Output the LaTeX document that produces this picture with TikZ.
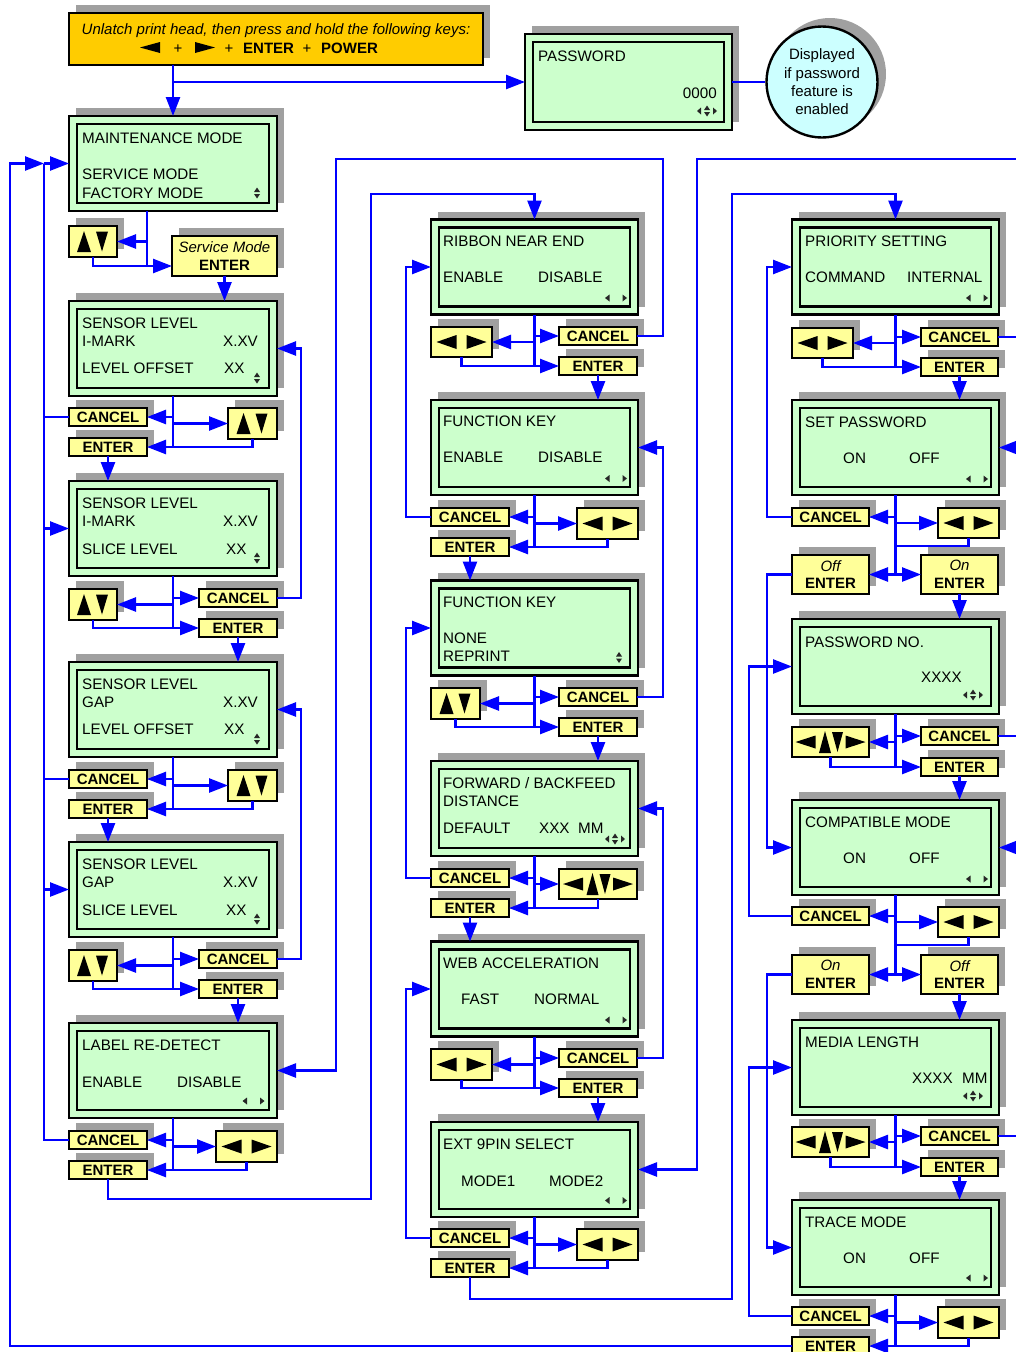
\documentclass[tikz,border=0pt]{standalone}
\usepackage{fontspec}
\setmainfont{Liberation Sans}
\usetikzlibrary{arrows.meta}
\definecolor{lcdg}{HTML}{CCFFCC}
\definecolor{yel}{HTML}{FFFF99}
\definecolor{orng}{HTML}{FFCC00}
\definecolor{cyn}{HTML}{CCFFFF}
\definecolor{shc}{HTML}{A0A0A0}
\definecolor{blu}{HTML}{0000FF}
\tikzset{
 ar/.style={draw=blu, line width=2.5pt, -{Triangle[length=19pt,width=14pt]}},
 ln/.style={draw=blu, line width=2.5pt},
 lcdst/.style={draw, line width=2.6pt, fill=lcdg, anchor=north west, inner sep=0pt, outer sep=0pt},
 btnst/.style={draw, line width=2.4pt, fill=yel, anchor=north west, inner sep=0pt, outer sep=0pt, align=center, font=\bfseries\fontsize{15}{17.5}\selectfont},
 lt/.style={anchor=base west, inner sep=0pt, font=\fontsize{15.2}{18}\selectfont},
 rt/.style={anchor=base east, inner sep=0pt, font=\fontsize{15.2}{18}\selectfont},
 ic/.style={fill=black!85},
}
\newcommand{\lcd}[5]{%
 \fill[shc] (#2+7,#3-8) rectangle (#2+7+#4,#3-8+#5);
 \node[lcdst, minimum width=#4pt, minimum height=#5pt] (#1) at (#2,#3) {};
 \draw[line width=2.2pt] ([xshift=8pt,yshift=-8pt]#1.north west) rectangle ([xshift=-8pt,yshift=8pt]#1.south east);
}
\newcommand{\btn}[6]{%
 \fill[shc] (#2+7,#3-8) rectangle (#2+7+#4,#3-8+#5);
 \node[btnst, minimum width=#4pt, minimum height=#5pt] (#1) at (#2,#3) {#6};
}
\newcommand{\gud}[1]{%
 \fill ([shift={(-9,-10.5)}]#1.center) -- ([shift={(-2,10.5)}]#1.center) -- ([shift={(-16,10.5)}]#1.center) -- cycle;
 \fill ([shift={(9,10)}]#1.center) -- ([shift={(15,-10)}]#1.center) -- ([shift={(3,-10)}]#1.center) -- cycle;
}
\newcommand{\glr}[1]{%
 \fill ([shift={(-25,0)}]#1.center) -- ([shift={(-5,-7)}]#1.center) -- ([shift={(-5,7)}]#1.center) -- cycle;
 \fill ([shift={(25,0)}]#1.center) -- ([shift={(5,-7)}]#1.center) -- ([shift={(5,7)}]#1.center) -- cycle;
}
\newcommand{\gall}[1]{%
 \fill ([shift={(-35,0)}]#1.center) -- ([shift={(-15,-6.5)}]#1.center) -- ([shift={(-15,6.5)}]#1.center) -- cycle;
 \fill ([shift={(-5.5,-11)}]#1.center) -- ([shift={(0.5,11)}]#1.center) -- ([shift={(-11.5,11)}]#1.center) -- cycle;
 \fill ([shift={(7,10)}]#1.center) -- ([shift={(12.5,-10)}]#1.center) -- ([shift={(1.5,-10)}]#1.center) -- cycle;
 \fill ([shift={(35,0)}]#1.center) -- ([shift={(15,-6.5)}]#1.center) -- ([shift={(15,6.5)}]#1.center) -- cycle;
}
\newcommand{\ilr}[2]{%
 \fill[ic] (#1,#2) -- (#1+4.5,#2-3.5) -- (#1+4.5,#2+3.5) -- cycle;
 \fill[ic] (#1+22,#2) -- (#1+17.5,#2-3.5) -- (#1+17.5,#2+3.5) -- cycle;}
\newcommand{\iud}[2]{%
 \fill[ic] (#1,#2-5.5) -- (#1+3,#2-1) -- (#1-3,#2-1) -- cycle;
 \fill[ic] (#1,#2+5.5) -- (#1+3,#2+1) -- (#1-3,#2+1) -- cycle;}
\newcommand{\iall}[2]{%
 \fill[ic] (#1,#2) -- (#1+4,#2-3.5) -- (#1+4,#2+3.5) -- cycle;
 \fill[ic] (#1+10,#2-5.5) -- (#1+13,#2-1) -- (#1+7,#2-1) -- cycle;
 \fill[ic] (#1+10,#2+5.5) -- (#1+13,#2+1) -- (#1+7,#2+1) -- cycle;
 \fill[ic] (#1+20,#2) -- (#1+16,#2-3.5) -- (#1+16,#2+3.5) -- cycle;}
\begin{document}
\begin{tikzpicture}[x=1pt,y=-1pt]
\useasboundingbox (0,0) rectangle (1015,1352);
% ---------- top
\fill[shc] (76,5) rectangle (490,58);
\node[draw, line width=2.6pt, fill=orng, minimum width=414pt, minimum height=52pt, anchor=north west, inner sep=0pt, outer sep=0pt] (top) at (69,13) {};
\node[anchor=base, inner sep=0pt, font=\itshape\fontsize{15}{18}\selectfont] (topa) at (276,34) {Unlatch print head, then press and hold the following keys:};
\fill (140,47.5) -- (160,42) -- (160,53) -- cycle;
\fill (215,47.5) -- (195,42) -- (195,53) -- cycle;
\node[anchor=base, inner sep=0pt, font=\fontsize{15}{18}\selectfont] (topp1) at (178,53) {+};
\node[anchor=base, inner sep=0pt, font=\fontsize{15}{18}\selectfont] (topp2) at (229,53) {+};
\node[anchor=base, inner sep=0pt, font=\fontsize{15}{18}\selectfont] (topp3) at (307,53) {+};
\node[anchor=base west, inner sep=0pt, font=\bfseries\fontsize{15}{18}\selectfont] (tope) at (243,53) {ENTER};
\node[anchor=base west, inner sep=0pt, font=\bfseries\fontsize{15}{18}\selectfont] (topw) at (321,53) {POWER};
% password
\lcd{pw}{525}{34}{207}{96}
\node[lt] (pwa) at (538,61) {PASSWORD};
\node[rt] (pwb) at (717,98) {0000};
\iall{697}{111}
\fill[shc] (830,74) circle[radius=56pt];
\node[circle, draw, line width=2.4pt, fill=cyn, minimum size=111pt, inner sep=0pt, align=center, font=\fontsize{15}{18.3}\selectfont] (circ) at (822,82) {Displayed\\if password\\feature is\\enabled};
% ---------- left column
\lcd{b1}{69}{116}{208}{95}
\node[lt] (b1a) at (82,143) {MAINTENANCE MODE};
\node[lt] (b1b) at (82,179) {SERVICE MODE};
\node[lt] (b1c) at (82,198) {FACTORY MODE};
\iud{257}{193}
\btn{ud1}{69}{226}{48}{31}{} \gud{ud1}
\btn{sme}{172}{236}{105}{40}{{\mdseries\itshape Service Mode}\\ENTER}

\lcd{b2}{69}{301}{208}{95}
\node[lt] (b2a) at (82,328) {SENSOR LEVEL};
\node[lt] (b2b) at (82,346.5) {I-MARK};
\node[rt] (b2c) at (258,346.5) {X.XV};
\node[lt] (b2d) at (82,373) {LEVEL OFFSET};
\node[lt] (b2e) at (224,373) {XX};
\iud{257}{378}
\btn{c2}{69}{408}{78}{18}{CANCEL}
\btn{e2}{69}{438}{78}{18}{ENTER}
\btn{ud2}{228}{408}{49}{31}{} \gud{ud2}

\lcd{b3}{69}{481}{208}{95}
\node[lt] (b3a) at (82,508) {SENSOR LEVEL};
\node[lt] (b3b) at (82,526.5) {I-MARK};
\node[rt] (b3c) at (258,526.5) {X.XV};
\node[lt] (b3d) at (82,554) {SLICE LEVEL};
\node[lt] (b3e) at (226,554) {XX};
\iud{257}{558}
\btn{ud3}{69}{589}{48}{31}{} \gud{ud3}
\btn{c3}{199}{589}{78}{18}{CANCEL}
\btn{e3}{199}{619}{78}{18}{ENTER}

\lcd{b4}{69}{662}{208}{95}
\node[lt] (b4a) at (82,689) {SENSOR LEVEL};
\node[lt] (b4b) at (82,707.5) {GAP};
\node[rt] (b4c) at (258,707.5) {X.XV};
\node[lt] (b4d) at (82,734) {LEVEL OFFSET};
\node[lt] (b4e) at (224,734) {XX};
\iud{257}{739}
\btn{c4}{69}{770}{78}{18}{CANCEL}
\btn{e4}{69}{800}{78}{18}{ENTER}
\btn{ud4}{228}{770}{49}{31}{} \gud{ud4}

\lcd{b5}{69}{842}{208}{95}
\node[lt] (b5a) at (82,869) {SENSOR LEVEL};
\node[lt] (b5b) at (82,887.5) {GAP};
\node[rt] (b5c) at (258,887.5) {X.XV};
\node[lt] (b5d) at (82,915) {SLICE LEVEL};
\node[lt] (b5e) at (226,915) {XX};
\iud{257}{919}
\btn{ud5}{69}{950}{48}{31}{} \gud{ud5}
\btn{c5}{199}{950}{78}{18}{CANCEL}
\btn{e5}{199}{980}{78}{18}{ENTER}

\lcd{b6}{69}{1023}{208}{95}
\node[lt] (b6a) at (82,1050) {LABEL RE-DETECT};
\node[lt] (b6b) at (82,1087) {ENABLE};
\node[lt] (b6c) at (177,1087) {DISABLE};
\ilr{242.5}{1101}
\btn{c6}{69}{1131}{78}{18}{CANCEL}
\btn{e6}{69}{1161}{78}{18}{ENTER}
\btn{lr6}{216}{1131}{61}{31}{} \glr{lr6}
% ---------- middle column
\lcd{M1}{431}{219.5}{207}{95}
\node[lt] (m1a) at (443,246.5) {RIBBON NEAR END};
\node[lt] (m1b) at (443,282.5) {ENABLE};
\node[lt] (m1c) at (538,282.5) {DISABLE};
\ilr{605}{298}
\btn{mlr1}{431}{327}{61}{30}{} \glr{mlr1}
\btn{mc1}{559}{327}{78}{18}{CANCEL}
\btn{me1}{559}{357}{78}{18}{ENTER}

\lcd{M2}{431}{400}{207}{95}
\node[lt] (m2a) at (443,426.5) {FUNCTION KEY};
\node[lt] (m2b) at (443,462.5) {ENABLE};
\node[lt] (m2c) at (538,462.5) {DISABLE};
\ilr{605}{478.5}
\btn{mc2}{431}{508}{78}{18}{CANCEL}
\btn{me2}{431}{538}{78}{18}{ENTER}
\btn{mlr2}{577}{508}{61}{31}{} \glr{mlr2}

\lcd{M3}{431}{580.5}{207}{95}
\node[lt] (m3a) at (443,607) {FUNCTION KEY};
\node[lt] (m3b) at (443,643.5) {NONE};
\node[lt] (m3c) at (443,661.5) {REPRINT};
\iud{619}{657.5}
\btn{mud3}{431}{688}{49}{31}{} \gud{mud3}
\btn{mc3}{559}{688}{78}{18}{CANCEL}
\btn{me3}{559}{718}{78}{18}{ENTER}

\lcd{M4}{431}{761}{207}{95}
\node[lt] (m4a) at (443,788) {FORWARD / BACKFEED};
\node[lt] (m4b) at (443,806.5) {DISTANCE};
\node[lt] (m4c) at (443,833) {DEFAULT};
\node[lt] (m4d) at (539,833) {XXX};
\node[lt] (m4e) at (578,833) {MM};
\iall{605}{839}
\btn{mc4}{431}{869}{78}{18}{CANCEL}
\btn{me4}{431}{899}{78}{18}{ENTER}
\btn{mall4}{559}{869}{78}{30}{} \gall{mall4}

\lcd{M5}{431}{941.5}{207}{95}
\node[lt] (m5a) at (443,968.5) {WEB ACCELERATION};
\node[lt] (m5b) at (461,1004.5) {FAST};
\node[lt] (m5c) at (534,1004.5) {NORMAL};
\ilr{605}{1020}
\btn{mlr5}{431}{1049}{61}{31}{} \glr{mlr5}
\btn{mc5}{559}{1049}{78}{18}{CANCEL}
\btn{me5}{559}{1079}{78}{18}{ENTER}

\lcd{M6}{431}{1122}{207}{95}
\node[lt] (m6a) at (443,1149) {EXT 9PIN SELECT};
\node[lt] (m6b) at (461,1186) {MODE1};
\node[lt] (m6c) at (549,1186) {MODE2};
\ilr{605}{1200.5}
\btn{mc6}{431}{1229}{78}{18}{CANCEL}
\btn{me6}{431}{1259}{78}{18}{ENTER}
\btn{mlr6}{577}{1229}{61}{31}{} \glr{mlr6}
% ---------- right column
\lcd{R1}{792}{219.5}{207}{95}
\node[lt] (r1a) at (805,246.5) {PRIORITY SETTING};
\node[lt] (r1b) at (805,282.5) {COMMAND};
\node[lt] (r1c) at (907,282.5) {INTERNAL};
\ilr{966}{298}
\btn{rlr1}{792}{328}{61}{30}{} \glr{rlr1}
\btn{rc1}{921}{328}{77}{18}{CANCEL}
\btn{re1}{921}{358}{77}{18}{ENTER}

\lcd{R2}{792}{400}{207}{95}
\node[lt] (r2a) at (805,427) {SET PASSWORD};
\node[lt] (r2b) at (843,463) {ON};
\node[lt] (r2c) at (909,463) {OFF};
\ilr{966}{479}
\btn{rc2}{792}{508}{77}{18}{CANCEL}
\btn{rlr2}{938}{508}{61}{30}{} \glr{rlr2}
\btn{roff2}{792}{555}{77}{39}{{\mdseries\itshape Off}\\ENTER}
\btn{ron2}{921}{555}{77}{39}{{\mdseries\itshape On}\\ENTER}

\lcd{R3}{792}{619}{207}{95}
\node[lt] (r3a) at (805,647) {PASSWORD NO.};
\node[lt] (r3b) at (921,682) {XXXX};
\iall{963}{695}
\btn{rall3}{792}{727}{77}{30}{} \gall{rall3}
\btn{rc3}{921}{727}{77}{18}{CANCEL}
\btn{re3}{921}{758}{77}{18}{ENTER}

\lcd{R4}{792}{800}{207}{95}
\node[lt] (r4a) at (805,827) {COMPATIBLE MODE};
\node[lt] (r4b) at (843,863) {ON};
\node[lt] (r4c) at (909,863) {OFF};
\ilr{966}{879}
\btn{rc4}{792}{907}{77}{18}{CANCEL}
\btn{rlr4}{938}{907}{61}{30}{} \glr{rlr4}
\btn{ron4}{792}{955}{77}{39}{{\mdseries\itshape On}\\ENTER}
\btn{roff4}{921}{955}{77}{39}{{\mdseries\itshape Off}\\ENTER}

\lcd{R5}{792}{1020}{207}{95}
\node[lt] (r5a) at (805,1047) {MEDIA LENGTH};
\node[lt] (r5b) at (912,1083) {XXXX};
\node[lt] (r5c) at (962,1083) {MM};
\iall{963}{1096}
\btn{rall5}{792}{1127}{77}{30}{} \gall{rall5}
\btn{rc5}{921}{1127}{77}{18}{CANCEL}
\btn{re5}{921}{1158}{77}{18}{ENTER}

\lcd{R6}{792}{1200}{207}{95}
\node[lt] (r6a) at (805,1227) {TRACE MODE};
\node[lt] (r6b) at (843,1263) {ON};
\node[lt] (r6c) at (909,1263) {OFF};
\ilr{966}{1278}
\btn{rc6}{792}{1307}{77}{18}{CANCEL}
\btn{rlr6}{938}{1307}{61}{31}{} \glr{rlr6}
\btn{re6}{792}{1337}{77}{18}{ENTER}

% ================= connectors
\draw[ar] (b1.north |- top.south) -- (b1.north);
\draw[ar] (b1.north |- pw.west) -- (pw.west);
\draw[ln] (pw.east) -- (circ.west);
% b1
\coordinate (j1) at ([xshift=-26pt]b1.south);
\coordinate (j2) at ([yshift=-10pt]sme.west);
\draw[ln] (j1) -- (j1 |- j2);
\draw[ar] (j1 |- ud1.east) -- (ud1.east);
\draw[ar] (ud1.south) |- (j2);
\draw[ar] (sme.south) -- (sme.south |- b2.north);
% b2
\draw[ln] (b2.south) -- (b2.south |- e2.east);
\draw[ar] (b2.south |- c2.east) -- (c2.east);
\draw[ar] (b2.south |- ud2.west) -- (ud2.west);
\draw[ar] (ud2.south) |- (e2.east);
\draw[ar] (e2.south) -- (e2.south |- b3.north);
% b3
\draw[ln] (b3.south) -- (b3.south |- e3.west);
\draw[ar] (b3.south |- c3.west) -- (c3.west);
\draw[ar] (b3.south |- ud3.east) -- (ud3.east);
\draw[ar] (ud3.south) |- (e3.west);
\draw[ar] (e3.south) -- (e3.south |- b4.north);
\draw[ar] (c3.east) -| ([xshift=24pt]b2.east) -- (b2.east);
% b4
\draw[ln] (b4.south) -- (b4.south |- e4.east);
\draw[ar] (b4.south |- c4.east) -- (c4.east);
\draw[ar] (b4.south |- ud4.west) -- (ud4.west);
\draw[ar] (ud4.south) |- (e4.east);
\draw[ar] (e4.south) -- (e4.south |- b5.north);
% b5
\draw[ln] (b5.south) -- (b5.south |- e5.west);
\draw[ar] (b5.south |- c5.west) -- (c5.west);
\draw[ar] (b5.south |- ud5.east) -- (ud5.east);
\draw[ar] (ud5.south) |- (e5.west);
\draw[ar] (e5.south) -- (e5.south |- b6.north);
\draw[ar] (c5.east) -| ([xshift=24pt]b4.east) -- (b4.east);
% b6
\draw[ln] (b6.south) -- (b6.south |- e6.east);
\draw[ar] (b6.south |- c6.east) -- (c6.east);
\draw[ar] (b6.south |- lr6.west) -- (lr6.west);
\draw[ar] (lr6.south) |- (e6.east);
% left long lines
\coordinate (L0) at (10,163.5);
\coordinate (L1) at (44,163.5);
\draw[ar] (re6.west) -| (L0) -- (L1);
\draw[ln] (c6.west) -| (L1);
\draw[ln] (c4.west) -- (c4.west -| L1);
\draw[ln] (c2.west) -- (c2.west -| L1);
\draw[ar] (L1) -- (b1.west);
\draw[ar] (b3.west -| L1) -- (b3.west);
\draw[ar] (b5.west -| L1) -- (b5.west);
% links left <-> middle
\coordinate (p1) at (663,159);
\coordinate (p2) at (336,159);
\draw[ar] (mc1.east) -| (p1) -- (p2) |- (b6.east);
\coordinate (p4) at (371,1199);
\coordinate (p5) at (371,194);
\draw[ar] (e6.south) |- (p4) -- (p5) -| (M1.north);
% M1
\draw[ln] (M1.south) -- (M1.south |- me1.west);
\draw[ar] (M1.south |- mc1.west) -- (mc1.west);
\draw[ar] (M1.south |- mlr1.east) -- (mlr1.east);
\draw[ar] (mlr1.south) |- (me1.west);
\draw[ar] (me1.south) -- (me1.south |- M2.north);
% M2
\draw[ln] (M2.south) -- (M2.south |- me2.east);
\draw[ar] (M2.south |- mc2.east) -- (mc2.east);
\draw[ar] (M2.south |- mlr2.west) -- (mlr2.west);
\draw[ar] (mlr2.south) |- (me2.east);
\draw[ar] (me2.south) -- (me2.south |- M3.north);
\draw[ar] (mc2.west) -| ([xshift=-25pt]M1.west) -- (M1.west);
% M3
\draw[ln] (M3.south) -- (M3.south |- me3.west);
\draw[ar] (M3.south |- mc3.west) -- (mc3.west);
\draw[ar] (M3.south |- mud3.east) -- (mud3.east);
\draw[ar] (mud3.south) |- (me3.west);
\draw[ar] (me3.south) -- (me3.south |- M4.north);
\draw[ar] (mc3.east) -| ([xshift=25pt]M2.east) -- (M2.east);
% M4
\draw[ln] (M4.south) -- (M4.south |- me4.east);
\draw[ar] (M4.south |- mc4.east) -- (mc4.east);
\draw[ar] (M4.south |- mall4.west) -- (mall4.west);
\draw[ar] (mall4.south) |- (me4.east);
\draw[ar] (me4.south) -- (me4.south |- M5.north);
\draw[ar] (mc4.west) -| ([xshift=-25pt]M3.west) -- (M3.west);
% M5
\draw[ln] (M5.south) -- (M5.south |- me5.west);
\draw[ar] (M5.south |- mc5.west) -- (mc5.west);
\draw[ar] (M5.south |- mlr5.east) -- (mlr5.east);
\draw[ar] (mlr5.south) |- (me5.west);
\draw[ar] (me5.south) -- (me5.south |- M6.north);
\draw[ar] (mc5.east) -| ([xshift=25pt]M4.east) -- (M4.east);
% M6
\draw[ln] (M6.south) -- (M6.south |- me6.east);
\draw[ar] (M6.south |- mc6.east) -- (mc6.east);
\draw[ar] (M6.south |- mlr6.west) -- (mlr6.west);
\draw[ar] (mlr6.south) |- (me6.east);
\draw[ar] (mc6.west) -| ([xshift=-25pt]M5.west) -- (M5.west);
\coordinate (q1) at (1025,159);
\coordinate (q2) at (697,159);
\draw[ar] (q1) -- (q2) |- (M6.east);
\coordinate (q3) at (732,1299);
\coordinate (q4) at (732,194);
\draw[ar] (me6.south) |- (q3) -- (q4) -| (R1.north);
% right
\coordinate (E) at (1025,0);
% R1
\draw[ln] (R1.south) -- (R1.south |- re1.west);
\draw[ar] (R1.south |- rc1.west) -- (rc1.west);
\draw[ar] (R1.south |- rlr1.east) -- (rlr1.east);
\draw[ar] (rlr1.south) |- (re1.west);
\draw[ar] (re1.south) -- (re1.south |- R2.north);
\draw[ln] (rc1.east) -- (rc1.east -| E);
% R2
\draw[ln] (R2.south) -- (R2.south |- ron2.west);
\draw[ar] (R2.south |- rc2.east) -- (rc2.east);
\draw[ar] (R2.south |- rlr2.west) -- (rlr2.west);
\draw[ln] (rlr2.south) -- ++(0,8) -| (R2.south);
\draw[ar] (R2.south |- roff2.east) -- (roff2.east);
\draw[ar] (R2.south |- ron2.west) -- (ron2.west);
\draw[ar] (ron2.south) -- (ron2.south |- R3.north);
\draw[ar] (rc2.west) -| ([xshift=-25pt]R1.west) -- (R1.west);
\draw[ar] (roff2.west) -| ([xshift=-25pt]R4.west) -- (R4.west);
\draw[ar] (R2.east -| E) -- (R2.east);
% R3
\draw[ln] (R3.south) -- (R3.south |- re3.west);
\draw[ar] (R3.south |- rc3.west) -- (rc3.west);
\draw[ar] (R3.south |- rall3.east) -- (rall3.east);
\draw[ar] (rall3.south) |- (re3.west);
\draw[ar] (re3.south) -- (re3.south |- R4.north);
\draw[ln] (rc3.east) -- (rc3.east -| E);
% R4
\draw[ln] (R4.south) -- (R4.south |- roff4.west);
\draw[ar] (R4.south |- rc4.east) -- (rc4.east);
\draw[ar] (R4.south |- rlr4.west) -- (rlr4.west);
\draw[ln] (rlr4.south) -- ++(0,8) -| (R4.south);
\draw[ar] (R4.south |- ron4.east) -- (ron4.east);
\draw[ar] (R4.south |- roff4.west) -- (roff4.west);
\draw[ar] (roff4.south) -- (roff4.south |- R5.north);
\draw[ar] (rc4.west) -| ([xshift=-43pt]R3.west) -- (R3.west);
\draw[ar] (ron4.west) -| ([xshift=-25pt]R6.west) -- (R6.west);
\draw[ar] (R4.east -| E) -- (R4.east);
% R5
\draw[ln] (R5.south) -- (R5.south |- re5.west);
\draw[ar] (R5.south |- rc5.west) -- (rc5.west);
\draw[ar] (R5.south |- rall5.east) -- (rall5.east);
\draw[ar] (rall5.south) |- (re5.west);
\draw[ar] (re5.south) -- (re5.south |- R6.north);
\draw[ln] (rc5.east) -- (rc5.east -| E);
% R6
\draw[ln] (R6.south) -- (R6.south |- re6.east);
\draw[ar] (R6.south |- rc6.east) -- (rc6.east);
\draw[ar] (R6.south |- rlr6.west) -- (rlr6.west);
\draw[ar] (rlr6.south) |- (re6.east);
\draw[ar] (rc6.west) -| ([xshift=-43pt]R5.west) -- (R5.west);
\end{tikzpicture}
\end{document}
